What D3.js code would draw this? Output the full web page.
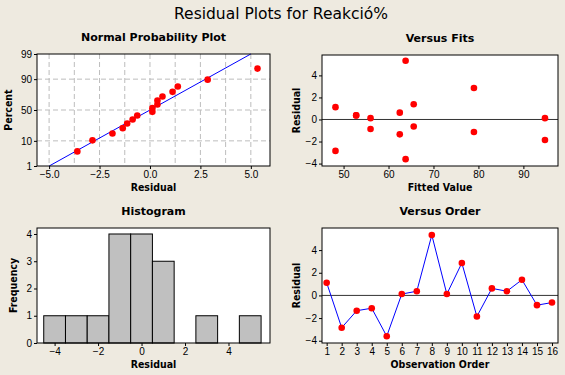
<!DOCTYPE html>
<html>
<head>
<meta charset="utf-8">
<script src="https://cdn.jsdelivr.net/npm/d3@7"></script>
<style>
  body { margin: 0; background: #EEEAE0; }
  svg { display: block; font-family: "DejaVu Sans", sans-serif; }
  .tick text { font-size: 10px; fill: #000; }
  .ptitle { font-size: 11px; font-weight: bold; }
  .alabel { font-family: "DejaVu Sans Condensed", "DejaVu Sans", sans-serif; font-size: 10.5px; font-weight: bold; }
</style>
</head>
<body>
<div id="chart"></div>
<script>
// Data (residuals in observation order, with their fitted values)
const observation = d3.range(1, 17);
const residuals = [1.12, -2.85, -1.35, -1.13, -3.60, 0.12, 0.37, 5.33, 0.12, 2.86, -1.86, 0.62, 0.37, 1.38, -0.86, -0.63];
const fitted = [48.2, 48.2, 62.5, 79.0, 63.8, 56.0, 52.8, 63.8, 94.8, 79.0, 94.8, 62.5, 52.8, 65.6, 56.0, 65.6];
const percentTicks = [1, 10, 50, 90, 99];
const normalXTicks = [-5, -2.5, 0, 2.5, 5];
const normalGrid = [-5, -3.75, -2.5, -1.25, 0, 1.25, 2.5, 3.75, 5];
const histBins = [-4.5, -3.5, -2.5, -1.5, -0.5, 0.5, 1.5, 2.5, 3.5, 4.5, 5.5];

// Inverse normal CDF (Acklam)
const probit = (p) => {
  const a = [-39.69683028665376, 220.9460984245205, -275.9285104469687, 138.3577518672690, -30.66479806614716, 2.506628277459239];
  const b = [-54.47609879822406, 161.5858367580409, -155.6989798598866, 66.80131188771972, -13.28068155288572];
  const c = [-0.007784894002430293, -0.3223964580411365, -2.400758277161838, -2.549732539343734, 4.374664141464968, 2.938163982698783];
  const d = [0.007784695709041462, 0.3224671290700398, 2.445134137142996, 3.754408661907416];
  const pl = 0.02425;
  if (p < pl) {
    const q = Math.sqrt(-2 * Math.log(p));
    return (((((c[0]*q+c[1])*q+c[2])*q+c[3])*q+c[4])*q+c[5]) / ((((d[0]*q+d[1])*q+d[2])*q+d[3])*q+1);
  }
  if (p > 1 - pl) return -probit(1 - p);
  const q = p - 0.5, r = q * q;
  return (((((a[0]*r+a[1])*r+a[2])*r+a[3])*r+a[4])*r+a[5])*q / (((((b[0]*r+b[1])*r+b[2])*r+b[3])*r+b[4])*r+1);
};

const width = 565;
const height = 375;
const svg = d3.select('#chart').append('svg')
  .attr('width', width)
  .attr('height', height);

svg.append('text')
  .attr('x', 281)
  .attr('y', 18.5)
  .attr('text-anchor', 'middle')
  .style('font-size', '15.5px')
  .text('Residual Plots for Reakció%');

// Panel frame, axes and labels
const panel = (box, scaleX, scaleY, opts) => {
  const g = svg.append('g');
  g.append('rect')
    .attr('x', box.x0).attr('y', box.y0)
    .attr('width', box.x1 - box.x0).attr('height', box.y1 - box.y0)
    .attr('fill', '#fff');
  const grid = g.append('g');
  const marks = g.append('g');
  g.append('rect')
    .attr('x', box.x0).attr('y', box.y0)
    .attr('width', box.x1 - box.x0).attr('height', box.y1 - box.y0)
    .attr('fill', 'none').attr('stroke', '#000');
  const axisX = d3.axisBottom(scaleX).tickValues(opts.xTicks).tickSize(3).tickPadding(2)
    .tickFormat(opts.xFormat || d3.format('d'));
  g.append('g').attr('transform', `translate(0, ${box.y1})`).call(axisX)
    .call((a) => a.select('.domain').remove());
  const axisY = d3.axisLeft(scaleY).tickValues(opts.yTicks).tickSize(3).tickPadding(2)
    .tickFormat(opts.yFormat || d3.format('d'));
  g.append('g').attr('transform', `translate(${box.x0}, 0)`).call(axisY)
    .call((a) => a.select('.domain').remove());
  const cx = (box.x0 + box.x1) / 2;
  const cy = (box.y0 + box.y1) / 2;
  g.append('text').attr('class', 'ptitle')
    .attr('x', cx).attr('y', box.y0 - 13.5)
    .attr('text-anchor', 'middle').text(opts.title);
  g.append('text').attr('class', 'alabel')
    .attr('x', cx).attr('y', box.y1 + 24.5)
    .attr('text-anchor', 'middle').text(opts.xLabel);
  g.append('text').attr('class', 'alabel')
    .attr('transform', `translate(${opts.yLabelX}, ${cy}) rotate(-90)`)
    .attr('text-anchor', 'middle').text(opts.yLabel);
  return { grid, marks };
};

const dot = (sel, data, fx, fy) => sel.selectAll('circle')
  .data(data)
  .join('circle')
    .attr('cx', fx)
    .attr('cy', fy)
    .attr('r', 3.3)
    .attr('fill', '#FF0000');

// Normal Probability Plot
{
  const box = { x0: 37, x1: 270, y0: 54, y1: 166 };
  const x = d3.scaleLinear().domain([-5.6, 5.95]).range([box.x0, box.x1]);
  const z = d3.scaleLinear().domain([probit(0.01), probit(0.99)]).range([box.y1, box.y0]);
  const y = (p) => z(probit(p / 100));
  const yAxisScale = (p) => y(p);
  yAxisScale.copy = () => yAxisScale;
  yAxisScale.range = () => [box.y1, box.y0];
  yAxisScale.domain = () => [1, 99];
  const { grid, marks } = panel(box, x, yAxisScale, {
    title: 'Normal Probability Plot', xLabel: 'Residual', yLabel: 'Percent', yLabelX: 12,
    xTicks: normalXTicks, yTicks: percentTicks, xFormat: d3.format('.1f')
  });
  grid.selectAll('.v').data(normalGrid).join('line').attr('class', 'v')
    .attr('x1', x).attr('x2', x).attr('y1', box.y0).attr('y2', box.y1);
  grid.selectAll('.h').data(percentTicks.slice(1, -1)).join('line').attr('class', 'h')
    .attr('x1', box.x0).attr('x2', box.x1).attr('y1', y).attr('y2', y);
  grid.selectAll('line').attr('stroke', '#BDBDBD').attr('stroke-dasharray', '5,3');

  const n = residuals.length;
  const mean = d3.mean(residuals);
  const sd = d3.deviation(residuals);
  const sorted = residuals.slice().sort(d3.ascending);
  const pts = sorted.map((r, i) => ({ r, p: 100 * (i + 1 - 0.3) / (n + 0.4) }));
  const zEnds = [probit(0.01), probit(0.99)];
  marks.append('line')
    .attr('x1', x(mean + zEnds[0] * sd)).attr('y1', z(zEnds[0]))
    .attr('x2', x(mean + zEnds[1] * sd)).attr('y2', z(zEnds[1]))
    .attr('stroke', '#0000FF').attr('stroke-width', 1);
  dot(marks, pts, (d) => x(d.r), (d) => y(d.p));
}

// Versus Fits
{
  const box = { x0: 322, x1: 558, y0: 55, y1: 166 };
  const x = d3.scaleLinear().domain([45.2, 97.7]).range([box.x0, box.x1]);
  const y = d3.scaleLinear().domain([-4.22, 5.85]).range([box.y1, box.y0]);
  const { marks } = panel(box, x, y, {
    title: 'Versus Fits', xLabel: 'Fitted Value', yLabel: 'Residual', yLabelX: 299.5,
    xTicks: [50, 60, 70, 80, 90], yTicks: [-4, -2, 0, 2, 4]
  });
  marks.append('line')
    .attr('x1', box.x0).attr('x2', box.x1).attr('y1', y(0)).attr('y2', y(0))
    .attr('stroke', '#333');
  dot(marks, residuals.map((r, i) => [fitted[i], r]), (d) => x(d[0]), (d) => y(d[1]));
}

// Histogram
{
  const box = { x0: 37, x1: 270, y0: 228, y1: 343 };
  const x = d3.scaleLinear().domain([-4.81, 5.91]).range([box.x0, box.x1]);
  const y = d3.scaleLinear().domain([0, 4.22]).range([box.y1, box.y0]);
  const { marks } = panel(box, x, y, {
    title: 'Histogram', xLabel: 'Residual', yLabel: 'Frequency', yLabelX: 16.5,
    xTicks: [-4, -2, 0, 2, 4], yTicks: [0, 1, 2, 3, 4]
  });
  const bins = d3.bin().domain([histBins[0], histBins[histBins.length - 1]]).thresholds(histBins)(residuals);
  marks.selectAll('rect')
    .data(bins)
    .join('rect')
      .attr('x', (d) => x(d.x0))
      .attr('y', (d) => y(d.length))
      .attr('width', (d) => x(d.x1) - x(d.x0))
      .attr('height', (d) => y(0) - y(d.length))
      .attr('fill', '#C0C0C0')
      .attr('stroke', '#000');
}

// Versus Order
{
  const box = { x0: 322, x1: 558, y0: 228, y1: 343 };
  const x = d3.scaleLinear().domain([0.69, 16.4]).range([box.x0, box.x1]);
  const y = d3.scaleLinear().domain([-4.2, 5.95]).range([box.y1, box.y0]);
  const { marks } = panel(box, x, y, {
    title: 'Versus Order', xLabel: 'Observation Order', yLabel: 'Residual', yLabelX: 299.5,
    xTicks: observation, yTicks: [-4, -2, 0, 2, 4]
  });
  marks.append('line')
    .attr('x1', box.x0).attr('x2', box.x1).attr('y1', y(0)).attr('y2', y(0))
    .attr('stroke', '#333');
  const pts = residuals.map((r, i) => [observation[i], r]);
  marks.append('path')
    .datum(pts)
    .attr('d', d3.line().x((d) => x(d[0])).y((d) => y(d[1])))
    .attr('fill', 'none')
    .attr('stroke', '#0000FF');
  dot(marks, pts, (d) => x(d[0]), (d) => y(d[1]));
}
</script>
</body>
</html>
